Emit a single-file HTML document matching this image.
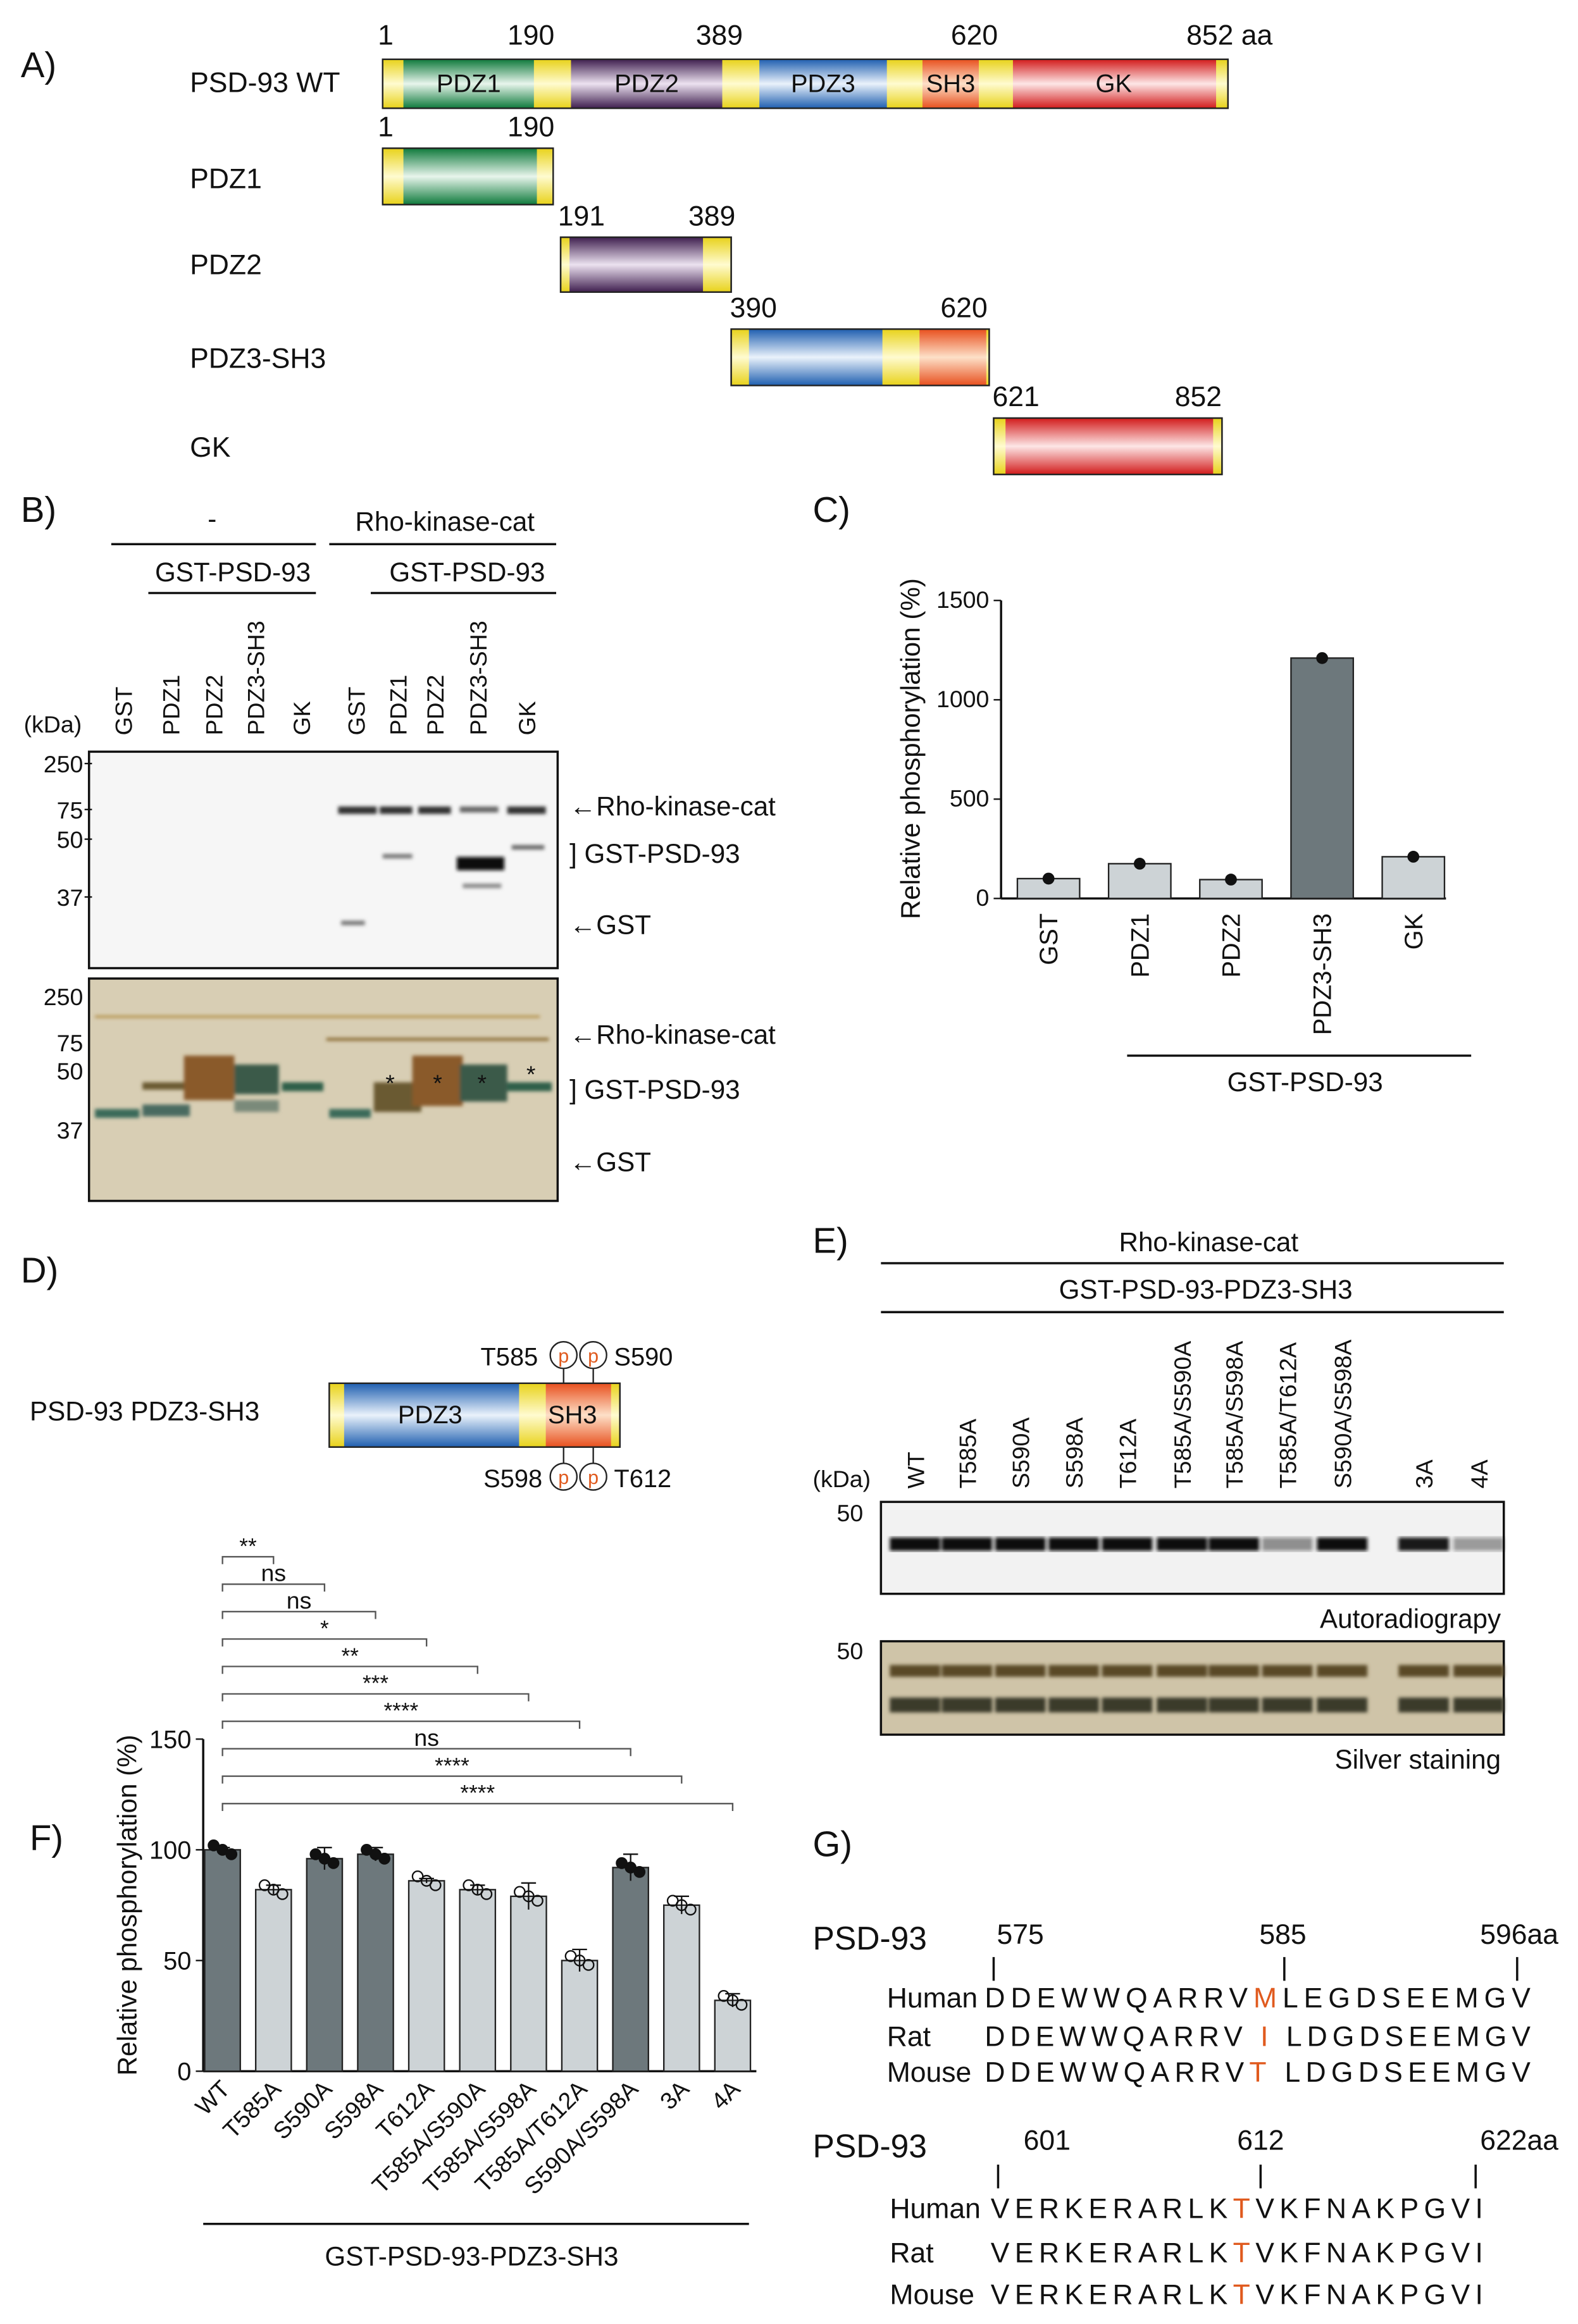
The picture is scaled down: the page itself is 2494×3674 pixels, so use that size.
<!DOCTYPE html>
<html><head><meta charset="utf-8"><style>
html,body{margin:0;padding:0;background:#fff}
svg{display:block}
text{font-family:"Liberation Sans",sans-serif;fill:#111}
</style></head><body>
<svg id="fig" xmlns="http://www.w3.org/2000/svg" width="2494" height="3674" viewBox="0 0 1064 1567.5">
<defs>
<linearGradient id="gY" x1="0" y1="0" x2="0" y2="1"><stop offset="0" stop-color="#e8d21a"/><stop offset=".5" stop-color="#fffbd0"/><stop offset="1" stop-color="#e8d21a"/></linearGradient>
<linearGradient id="gG" x1="0" y1="0" x2="0" y2="1"><stop offset="0" stop-color="#0f7a3c"/><stop offset=".5" stop-color="#e8f5ec"/><stop offset="1" stop-color="#0f7a3c"/></linearGradient>
<linearGradient id="gP" x1="0" y1="0" x2="0" y2="1"><stop offset="0" stop-color="#3f1f4f"/><stop offset=".5" stop-color="#ece2f0"/><stop offset="1" stop-color="#3f1f4f"/></linearGradient>
<linearGradient id="gB" x1="0" y1="0" x2="0" y2="1"><stop offset="0" stop-color="#1f5fb0"/><stop offset=".5" stop-color="#eaf2fb"/><stop offset="1" stop-color="#1f5fb0"/></linearGradient>
<linearGradient id="gO" x1="0" y1="0" x2="0" y2="1"><stop offset="0" stop-color="#e8501e"/><stop offset=".5" stop-color="#fde0c8"/><stop offset="1" stop-color="#e8501e"/></linearGradient>
<linearGradient id="gR" x1="0" y1="0" x2="0" y2="1"><stop offset="0" stop-color="#d21b1b"/><stop offset=".5" stop-color="#fde6e6"/><stop offset="1" stop-color="#d21b1b"/></linearGradient>
<filter id="blur"><feGaussianBlur stdDeviation="1.2"/></filter>
</defs>

<!-- Panel A -->
<g font-size="19">
<text x="14" y="52" font-size="24">A)</text>
<text x="128" y="62">PSD-93 WT</text>
<rect x="258" y="40" width="570" height="33" fill="url(#gY)" stroke="#222"/>
<rect x="272" y="40" width="88" height="33" fill="url(#gG)"/>
<rect x="385" y="40" width="102" height="33" fill="url(#gP)"/>
<rect x="512" y="40" width="86" height="33" fill="url(#gB)"/>
<rect x="622" y="40" width="38" height="33" fill="url(#gO)"/>
<rect x="683" y="40" width="137" height="33" fill="url(#gR)"/>
<rect x="258" y="40" width="570" height="33" fill="none" stroke="#222"/>
<g font-size="17" text-anchor="middle"><text x="316" y="62">PDZ1</text><text x="436" y="62">PDZ2</text><text x="555" y="62">PDZ3</text><text x="641" y="62">SH3</text><text x="751" y="62">GK</text></g>
<text x="260" y="30" text-anchor="middle">1</text><text x="358" y="30" text-anchor="middle">190</text><text x="485" y="30" text-anchor="middle">389</text><text x="657" y="30" text-anchor="middle">620</text><text x="800" y="30">852 aa</text>

<text x="128" y="127">PDZ1</text>
<rect x="258" y="100" width="115" height="38" fill="url(#gY)" stroke="#222"/>
<rect x="272" y="100" width="90" height="38" fill="url(#gG)"/><rect x="258" y="100" width="115" height="38" fill="none" stroke="#222"/>
<text x="260" y="92" text-anchor="middle">1</text><text x="358" y="92" text-anchor="middle">190</text>

<text x="128" y="185">PDZ2</text>
<rect x="378" y="160" width="115" height="37" fill="url(#gY)" stroke="#222"/>
<rect x="384" y="160" width="90" height="37" fill="url(#gP)"/><rect x="378" y="160" width="115" height="37" fill="none" stroke="#222"/>
<text x="392" y="152" text-anchor="middle">191</text><text x="480" y="152" text-anchor="middle">389</text>

<text x="128" y="248">PDZ3-SH3</text>
<rect x="493" y="222" width="174" height="38" fill="url(#gY)" stroke="#222"/>
<rect x="505" y="222" width="90" height="38" fill="url(#gB)"/><rect x="620" y="222" width="45" height="38" fill="url(#gO)"/><rect x="493" y="222" width="174" height="38" fill="none" stroke="#222"/>
<text x="508" y="214" text-anchor="middle">390</text><text x="650" y="214" text-anchor="middle">620</text>

<text x="128" y="308">GK</text>
<rect x="670" y="282" width="154" height="38" fill="url(#gY)" stroke="#222"/>
<rect x="678" y="282" width="140" height="38" fill="url(#gR)"/><rect x="670" y="282" width="154" height="38" fill="none" stroke="#222"/>
<text x="685" y="274" text-anchor="middle">621</text><text x="808" y="274" text-anchor="middle">852</text>
</g>

<!-- Panel B -->
<g font-size="18">
<text x="14" y="352" font-size="24">B)</text>
<text x="143" y="356" text-anchor="middle">-</text><line x1="75" y1="367" x2="213" y2="367" stroke="#111" stroke-width="1.5"/>
<text x="300" y="358" text-anchor="middle">Rho-kinase-cat</text><line x1="222" y1="367" x2="375" y2="367" stroke="#111" stroke-width="1.5"/>
<text x="157" y="392" text-anchor="middle">GST-PSD-93</text><line x1="100" y1="400" x2="213" y2="400" stroke="#111" stroke-width="1.5"/>
<text x="315" y="392" text-anchor="middle">GST-PSD-93</text><line x1="250" y1="400" x2="375" y2="400" stroke="#111" stroke-width="1.5"/>
<text x="16" y="494" font-size="16">(kDa)</text>
<g id="blanes" font-size="16"></g>
<rect x="60" y="507" width="316" height="146" fill="#f6f6f6" stroke="#111" stroke-width="1.5"/>
<g filter="url(#blur)" fill="#333">
<rect x="228" y="544" width="26" height="5"/><rect x="256" y="544" width="22" height="5"/><rect x="282" y="544" width="22" height="5"/><rect x="310" y="544" width="26" height="4" fill="#666"/><rect x="342" y="544" width="26" height="5"/>
<rect x="258" y="576" width="20" height="3" fill="#777"/><rect x="308" y="578" width="32" height="9" fill="#111"/><rect x="312" y="596" width="26" height="3" fill="#888"/><rect x="345" y="570" width="22" height="3" fill="#666"/><rect x="230" y="621" width="16" height="3" fill="#777"/>
</g>
<rect x="60" y="660" width="316" height="150" fill="#d8ceb4" stroke="#111" stroke-width="1.5"/>
<g filter="url(#blur)">
<rect x="64" y="748" width="30" height="6" fill="#3b6a5a"/><rect x="96" y="730" width="32" height="5" fill="#6b5a30"/><rect x="96" y="745" width="32" height="8" fill="#4a6a60"/>
<rect x="124" y="712" width="34" height="30" fill="#8a5a2a"/><rect x="158" y="718" width="30" height="20" fill="#3b5a4a"/><rect x="158" y="742" width="30" height="8" fill="#7a8a7a"/><rect x="190" y="730" width="28" height="6" fill="#2e5e4a"/>
<rect x="222" y="748" width="28" height="6" fill="#3b6a5a"/><rect x="252" y="730" width="32" height="20" fill="#6b5a30"/><rect x="278" y="712" width="34" height="34" fill="#8a5a2a"/><rect x="310" y="718" width="32" height="25" fill="#3b5a4a"/><rect x="342" y="730" width="30" height="6" fill="#2e5e4a"/>
<rect x="220" y="700" width="150" height="2" fill="#8a6a30"/><rect x="64" y="685" width="300" height="1.5" fill="#b08a40"/>
</g>
<g font-size="16" text-anchor="middle"><text x="263" y="736">*</text><text x="295" y="736">*</text><text x="325" y="736">*</text><text x="358" y="730">*</text></g>
<g font-size="16" text-anchor="end">
<text x="56" y="521">250</text><text x="56" y="552">75</text><text x="56" y="572">50</text><text x="56" y="611">37</text>
<text x="56" y="678">250</text><text x="56" y="709">75</text><text x="56" y="728">50</text><text x="56" y="768">37</text></g>
<g stroke="#111" stroke-width="1"><line x1="57" y1="515" x2="62" y2="515"/><line x1="57" y1="546" x2="62" y2="546"/><line x1="57" y1="566" x2="62" y2="566"/><line x1="57" y1="605" x2="62" y2="605"/></g>
<text x="384" y="550">←Rho-kinase-cat</text><text x="384" y="582">] GST-PSD-93</text><text x="384" y="630">←GST</text>
<text x="384" y="704">←Rho-kinase-cat</text><text x="384" y="741">] GST-PSD-93</text><text x="384" y="790">←GST</text>
</g>

<!-- Panel C -->
<g id="chartC" font-size="16">
<text x="548" y="352" font-size="24">C)</text>
<text transform="translate(620,505) rotate(-90)" text-anchor="middle" font-size="18">Relative phosphorylation (%)</text>
<line x1="760" y1="712" x2="992" y2="712" stroke="#111" stroke-width="1.5"/>
<text x="880" y="736" text-anchor="middle" font-size="18">GST-PSD-93</text>
</g>

<!-- Panel D -->
<g font-size="18">
<text x="14" y="865" font-size="24">D)</text>
<text x="20" y="958">PSD-93 PDZ3-SH3</text>
<rect x="222" y="933" width="196" height="43" fill="url(#gY)" stroke="#222"/>
<rect x="232" y="933" width="118" height="43" fill="url(#gB)"/><rect x="368" y="933" width="44" height="43" fill="url(#gO)"/>
<rect x="222" y="933" width="196" height="43" fill="none" stroke="#222"/>
<text x="290" y="960" text-anchor="middle" font-size="17">PDZ3</text><text x="386" y="960" text-anchor="middle" font-size="17">SH3</text>
<g stroke="#222" fill="#fff"><line x1="380" y1="923" x2="380" y2="933"/><line x1="400" y1="923" x2="400" y2="933"/><line x1="380" y1="976" x2="380" y2="987"/><line x1="400" y1="976" x2="400" y2="987"/>
<circle cx="380" cy="914" r="9"/><circle cx="400" cy="914" r="9"/><circle cx="380" cy="996" r="9"/><circle cx="400" cy="996" r="9"/></g>
<g font-size="13" text-anchor="middle"><text x="380" y="919" style="fill:#e05a1e">p</text><text x="400" y="919" style="fill:#e05a1e">p</text><text x="380" y="1001" style="fill:#e05a1e">p</text><text x="400" y="1001" style="fill:#e05a1e">p</text></g>
<text x="324" y="921" font-size="17">T585</text><text x="414" y="921" font-size="17">S590</text>
<text x="326" y="1003" font-size="17">S598</text><text x="414" y="1003" font-size="17">T612</text>
</g>

<!-- Panel E -->
<g font-size="18">
<text x="548" y="845" font-size="24">E)</text>
<text x="815" y="844" text-anchor="middle">Rho-kinase-cat</text><line x1="594" y1="852" x2="1014" y2="852" stroke="#111" stroke-width="1.5"/>
<text x="813" y="876" text-anchor="middle">GST-PSD-93-PDZ3-SH3</text><line x1="594" y1="885" x2="1014" y2="885" stroke="#111" stroke-width="1.5"/>
<text x="548" y="1003" font-size="16">(kDa)</text>
<g id="elanes" font-size="16"></g>
<rect x="594" y="1013" width="420" height="62" fill="#f2f2f2" stroke="#111" stroke-width="1.5"/>
<g id="eband" filter="url(#blur)"></g>
<text x="1012" y="1098" text-anchor="end">Autoradiograpy</text>
<rect x="594" y="1107" width="420" height="63" fill="#cfc4a8" stroke="#111" stroke-width="1.5"/>
<g id="esilver" filter="url(#blur)"></g>
<text x="1012" y="1193" text-anchor="end">Silver staining</text>
<text x="582" y="1026" text-anchor="end" font-size="16">50</text><text x="582" y="1119" text-anchor="end" font-size="16">50</text>
</g>

<!-- Panel F -->
<g id="chartF" font-size="16">
<text x="20" y="1248" font-size="24">F)</text>
<text transform="translate(92,1285) rotate(-90)" text-anchor="middle" font-size="18">Relative phosphorylation (%)</text>
<line x1="137" y1="1500" x2="505" y2="1500" stroke="#111" stroke-width="1.5"/>
<text x="318" y="1528" text-anchor="middle" font-size="18">GST-PSD-93-PDZ3-SH3</text>
</g>

<!-- Panel G -->
<g font-size="19">
<text x="548" y="1252" font-size="24">G)</text>
<text x="548" y="1315" font-size="22">PSD-93</text>
<text x="688" y="1311" font-size="19" text-anchor="middle">575</text><text x="865" y="1311" text-anchor="middle">585</text><text x="998" y="1311">596aa</text>
<g stroke="#111" stroke-width="1.5"><line x1="670" y1="1320" x2="670" y2="1336"/><line x1="866" y1="1320" x2="866" y2="1336"/><line x1="1023" y1="1320" x2="1023" y2="1336"/></g>
<g font-size="19">
<text x="598" y="1354">Human</text><text x="664" y="1354" textLength="368" lengthAdjust="spacing">DDEWWQARRV<tspan style="fill:#e05a1e">M</tspan>LEGDSEEMGV</text>
<text x="598" y="1380">Rat</text><text x="664" y="1380" textLength="368" lengthAdjust="spacing">DDEWWQARRV<tspan style="fill:#e05a1e"> I </tspan>LDGDSEEMGV</text>
<text x="598" y="1404">Mouse</text><text x="664" y="1404" textLength="368" lengthAdjust="spacing">DDEWWQARRV<tspan style="fill:#e05a1e">T</tspan> LDGDSEEMGV</text>
</g>
<text x="548" y="1455" font-size="22">PSD-93</text>
<text x="706" y="1450" text-anchor="middle">601</text><text x="850" y="1450" text-anchor="middle">612</text><text x="998" y="1450">622aa</text>
<g stroke="#111" stroke-width="1.5"><line x1="673" y1="1460" x2="673" y2="1476"/><line x1="850" y1="1460" x2="850" y2="1476"/><line x1="995" y1="1460" x2="995" y2="1476"/></g>
<g font-size="19">
<text x="600" y="1496">Human</text><text x="668" y="1496" textLength="332" lengthAdjust="spacing">VERKERARLK<tspan style="fill:#e05a1e">T</tspan>VKFNAKPGVI</text>
<text x="600" y="1526">Rat</text><text x="668" y="1526" textLength="332" lengthAdjust="spacing">VERKERARLK<tspan style="fill:#e05a1e">T</tspan>VKFNAKPGVI</text>
<text x="600" y="1554">Mouse</text><text x="668" y="1554" textLength="332" lengthAdjust="spacing">VERKERARLK<tspan style="fill:#e05a1e">T</tspan>VKFNAKPGVI</text>
</g>
</g>
</svg>
<script>
var NS='http://www.w3.org/2000/svg';
function mk(p,t,a,txt){var e=document.createElementNS(NS,t);for(var k in a)e.setAttribute(k,a[k]);if(txt!=null)e.textContent=txt;p.appendChild(e);return e;}

// Panel B lanes
var bLanes=['GST','PDZ1','PDZ2','PDZ3-SH3','GK','GST','PDZ1','PDZ2','PDZ3-SH3','GK'];
var bLaneX=[89,121,150,178,209,246,274,299,328,361];
var bl=document.getElementById('blanes');
bLanes.forEach(function(n,i){var t=mk(bl,'text',{transform:'translate('+bLaneX[i]+',496) rotate(-90)'},n);

});

// Panel C
var cCats=['GST','PDZ1','PDZ2','PDZ3-SH3','GK'];
var cVals=[100,175,95,1210,210];
var cTicks=[0,500,1000,1500];
var cDark=[false,false,false,true,false];
(function(){
var g=document.getElementById('chartC');
var y0=606,y1=405,x0=675,x1=975,ymax=1500;
function y(v){return y0-(v/ymax)*(y0-y1);}
function x(i){return 707+i*61.5;}
mk(g,'line',{x1:x0,y1:y1,x2:x0,y2:y0,stroke:'#111','stroke-width':1.5});
mk(g,'line',{x1:x0,y1:y0,x2:x1,y2:y0,stroke:'#111','stroke-width':1.5});
cTicks.forEach(function(t){mk(g,'line',{x1:x0-5,y1:y(t),x2:x0,y2:y(t),stroke:'#111'});
var l=mk(g,'text',{x:x0-8,y:y(t)+5,'text-anchor':'end'},t);

});
cCats.forEach(function(c,i){
var b=mk(g,'rect',{x:x(i)-21,y:y(cVals[i]),width:42,height:y0-y(cVals[i]),fill:cDark[i]?'#6d787c':'#cdd3d6',stroke:'#222'});


mk(g,'circle',{cx:x(i),cy:y(cVals[i]),r:4,fill:'#111'});
var l=mk(g,'text',{transform:'translate('+(x(i)+6)+',616) rotate(-90)','text-anchor':'end','font-size':17},c);

});
})();

// Panel E lanes
var eLanes=['WT','T585A','S590A','S598A','T612A','T585A/S590A','T585A/S598A','T585A/T612A','S590A/S598A','3A','4A'];
var eBand=[1,1,1,1,1,1,1,0.45,1,0.95,0.4];
var eLaneX=[617,652,688,724,760,797,832,868,905,960,997];
(function(){
var g=document.getElementById('elanes'),b=document.getElementById('eband'),s=document.getElementById('esilver');
eLanes.forEach(function(n,i){var t=mk(g,'text',{transform:'translate('+(eLaneX[i]+6)+',1004) rotate(-90)'},n);


mk(b,'rect',{x:eLaneX[i]-17,y:1037,width:34,height:9,fill:'#111','fill-opacity':eBand[i]});
mk(s,'rect',{x:eLaneX[i]-17,y:1123,width:34,height:8,fill:'#5a4a28'});
mk(s,'rect',{x:eLaneX[i]-17,y:1145,width:34,height:10,fill:'#3a3a2a'});});
})();

// Panel F
var fCats=['WT','T585A','S590A','S598A','T612A','T585A/S590A','T585A/S598A','T585A/T612A','S590A/S598A','3A','4A'];
var fVals=[100,82,96,98,86,82,79,50,92,75,32];
var fErr=[1,2,5,3,1,2,6,5,6,4,3];
var fDark=[true,false,true,true,false,false,false,false,true,false,false];
var fTicks=[0,50,100,150];
var fSig=['**','ns','ns','*','**','***','****','ns','****','****'];
(function(){
var g=document.getElementById('chartF');
var y0=1397,yTop=1173,ymax=150,x0=137;
function y(v){return y0-(v/ymax)*(y0-yTop);}
function x(i){return 150+i*34.4;}
mk(g,'line',{x1:x0,y1:yTop,x2:x0,y2:y0,stroke:'#111','stroke-width':1.5});
mk(g,'line',{x1:x0,y1:y0,x2:510,y2:y0,stroke:'#111','stroke-width':1.5});
fTicks.forEach(function(t){mk(g,'line',{x1:x0-5,y1:y(t),x2:x0,y2:y(t),stroke:'#111'});
var l=mk(g,'text',{x:x0-8,y:y(t)+6,'text-anchor':'end','font-size':17},t);

});
fCats.forEach(function(c,i){
var b=mk(g,'rect',{x:x(i)-12,y:y(fVals[i]),width:24,height:y0-y(fVals[i]),fill:fDark[i]?'#6d787c':'#cdd3d6',stroke:'#222'});


mk(g,'line',{x1:x(i),y1:y(fVals[i]+fErr[i]),x2:x(i),y2:y(fVals[i]-fErr[i]),stroke:'#111'});
mk(g,'line',{x1:x(i)-5,y1:y(fVals[i]+fErr[i]),x2:x(i)+5,y2:y(fVals[i]+fErr[i]),stroke:'#111'});
[-6,0,6].forEach(function(d,k){mk(g,'circle',{cx:x(i)+d,cy:y(fVals[i])+(k-1)*3,r:3.5,fill:fDark[i]?'#111':'none',stroke:'#111'});});
var l=mk(g,'text',{transform:'translate('+(x(i)+6)+',1410) rotate(-45)','text-anchor':'end','font-size':16},c);


if(i>0){var ly=1050+(i-1)*18.5;
mk(g,'polyline',{points:x(0)+','+(ly+5)+' '+x(0)+','+ly+' '+x(i)+','+ly+' '+x(i)+','+(ly+5),fill:'none',stroke:'#555'});
var s=mk(g,'text',{x:(x(0)+x(i))/2,y:ly-2,'text-anchor':'middle','font-size':fSig[i-1]=='ns'?16:15},fSig[i-1]);

}
});
})();
</script>
</body></html>
